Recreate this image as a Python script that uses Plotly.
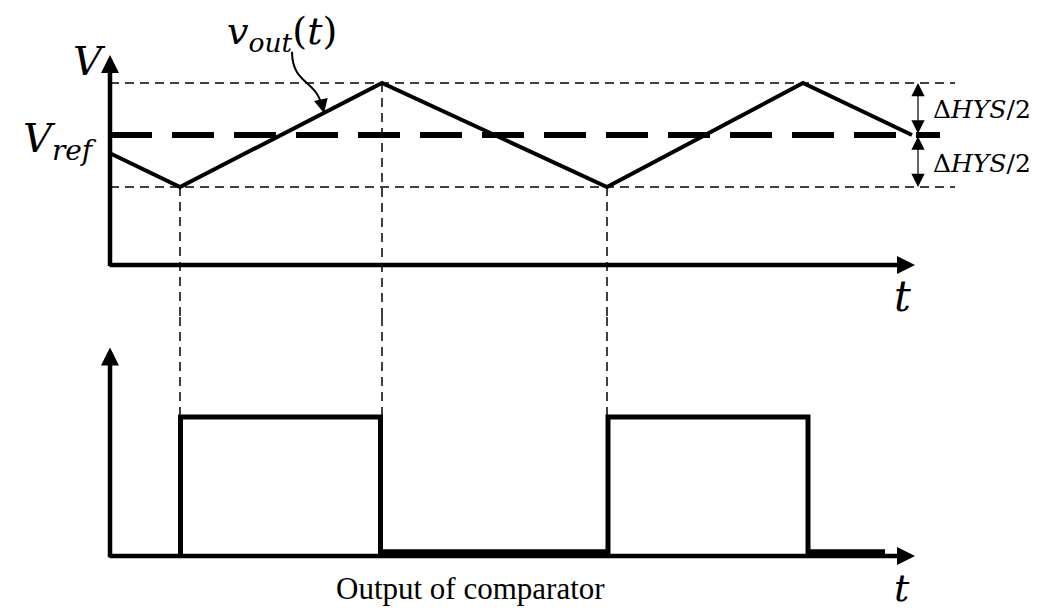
import plotly.graph_objects as go

# page body adds an 8px offset; figure is sized to the visible area
OFF = 8
W, H = 1047 - OFF, 612 - OFF

# ---- data (time in arbitrary units, voltage in arbitrary units) ----
t_vout = [0, 70, 272, 497, 693, 802]
v_vout = [2.15, 1.5, 3.5, 1.5, 3.5, 2.5]
v_ref = 2.5
hys_half = 1.0
t_switch = [70, 272, 497]
t_cmp = [70.5, 70.5, 270.5, 270.5, 498, 498, 698, 698, 775]
y_cmp = [0, 1, 1, 0.03, 0.03, 1, 1, 0.03, 0.03]
t_axis_end = 805
t_dash_end = 845
t_ref_end = 830
t_hys_marker = 808

v_hi = v_ref + hys_half
v_lo = v_ref - hys_half

SERIF = "DejaVu Serif"
fig = go.Figure()

thin = dict(color="black", width=1.5, dash="9px,6px")

# thin dashed hysteresis bounds
for lvl in (v_hi, v_lo):
    fig.add_trace(go.Scatter(x=[0, t_dash_end], y=[lvl, lvl], mode="lines",
                             line=thin, xaxis="x", yaxis="y"))
# Vref thick dashed
fig.add_trace(go.Scatter(x=[0, t_ref_end], y=[v_ref, v_ref], mode="lines",
                         line=dict(color="black", width=6, dash="42px,20px"),
                         xaxis="x", yaxis="y"))

# vertical dashed switch lines
yr_top = [-1.0, 4.5]
yr_bot = [-0.2, 1.72]
for i, ts in enumerate(t_switch):
    vstart = v_vout[t_vout.index(ts)] if ts in t_vout else v_lo
    fig.add_trace(go.Scatter(x=[ts, ts], y=[vstart, yr_top[0]], mode="lines",
                             line=thin, xaxis="x", yaxis="y"))
    bot_end = 0 if i == 2 else 1.0
    fig.add_trace(go.Scatter(x=[ts, ts], y=[yr_bot[1], bot_end], mode="lines",
                             line=thin, xaxis="x", yaxis="y2"))

# v_out waveform
fig.add_trace(go.Scatter(x=t_vout, y=v_vout, mode="lines",
                         line=dict(color="black", width=4), xaxis="x", yaxis="y"))
# comparator output
fig.add_trace(go.Scatter(x=t_cmp, y=y_cmp, mode="lines",
                         line=dict(color="black", width=5), xaxis="x", yaxis="y2"))

fig.update_traces(showlegend=False, hoverinfo="skip")

ann = []
def arrow(x, y, ax, ay, yref, width=4.5, size=0.8, side="end", head=2):
    ann.append(dict(x=x, y=y, ax=ax, ay=ay, xref="x", yref=yref, axref="x", ayref=yref,
                    text="", showarrow=True, arrowhead=head, arrowwidth=width,
                    arrowsize=size, arrowside=side, arrowcolor="black",
                    startarrowhead=head, startarrowsize=size))

# axes with arrows
arrow(0, 4.04, 0, -0.05, "y")
arrow(t_axis_end, 0, -2, 0, "y")
arrow(0, 1.5, 0, -0.02, "y2")
arrow(t_axis_end, 0, -2, 0, "y2")
# ΔHYS markers
arrow(t_hys_marker, v_hi, t_hys_marker, v_ref, "y", width=1.2, size=2.2, side="end+start")
arrow(t_hys_marker, v_lo, t_hys_marker, v_ref, "y", width=1.2, size=2.2, side="end+start")

def text(s, px, py, size, family=SERIF):
    # px, py are screen pixel positions
    ann.append(dict(text=s, x=(px - OFF) / W, y=1 - (py - OFF) / H,
                    xref="paper", yref="paper",
                    showarrow=False, xanchor="center", yanchor="middle",
                    font=dict(family=family, size=size, color="black")))

text("<i>V</i>", 89, 61, 40)
text("<i>V</i><sub><i>ref</i></sub>", 60, 141, 40)
text("<i>v</i><sub><i>out</i></sub>(<i>t</i>)", 282, 33, 38)
text("Δ<i>HYS</i>/2", 982, 110, 25)
text("Δ<i>HYS</i>/2", 982, 163, 25)
text("<i>t</i>", 902, 297, 42)
text("<i>t</i>", 902, 588, 38)
text("Output of comparator", 470, 588, 31, family="Liberation Serif")

# curved pointer from v_out label
ann.append(dict(x=214, y=2.92, ax=-3, ay=-13, xref="x", yref="y", text="",
                showarrow=True, arrowhead=2, arrowwidth=2, arrowsize=1.4,
                arrowcolor="black"))

# domains: screen pixel rows 31..317 (top) and 317..584 (bottom), minus offset
top_lo = 1 - (317 - OFF) / H
top_hi = 1 - (31 - OFF) / H
bot_lo = 1 - (583.8 - OFF) / H

fig.update_layout(
    width=W, height=H, margin=dict(l=0, r=0, t=0, b=0),
    plot_bgcolor="white", paper_bgcolor="white",
    xaxis=dict(range=[-(110 - OFF), W - (110 - OFF)], domain=[0, 1], visible=False, anchor="y"),
    yaxis=dict(range=yr_top, domain=[top_lo, top_hi], visible=False),
    yaxis2=dict(range=yr_bot, domain=[bot_lo, top_lo], visible=False, anchor="x"),
    annotations=ann,
    shapes=[dict(type="path", xref="x", yref="y",
                 path="M 182,4.10 C 182,3.46 208,3.56 212,3.02",
                 line=dict(color="black", width=2))],
)

fig.write_html("out.html")
